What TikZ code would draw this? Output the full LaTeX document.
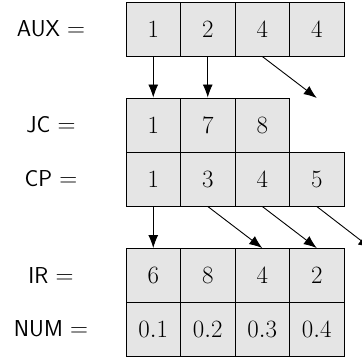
\documentclass[tikz,border=0pt]{standalone}
\usetikzlibrary{arrows.meta}
\begin{document}
\begin{tikzpicture}[x=1pt,y=-1pt,
 cell/.style={draw, line width=0.9pt, fill=black!10, minimum width=54.5pt, minimum height=54pt, inner sep=0pt, font=\fontsize{23}{28}\selectfont, anchor=center},
 lab/.style={font=\fontsize{23}{28}\selectfont\sffamily, anchor=center},
 arr/.style={-{Latex[length=13pt,width=10pt]}, line width=0.9pt}]
\clip (0,0) rectangle (362,358);
% labels
\node[lab] (lAUX) at (51,29) {AUX $=$};
\node[lab] (lJC) at (51,125) {JC $=$};
\node[lab] (lCP) at (51,179) {CP $=$};
\node[lab] (lIR) at (51,275.5) {IR $=$};
\node[lab] (lNUM) at (51,329) {NUM $=$};
% AUX
\node[cell] (a1) at (153.25,29) {$1$};
\node[cell] (a2) at (207.75,29) {$2$};
\node[cell] (a3) at (262.25,29) {$4$};
\node[cell] (a4) at (316.75,29) {$4$};
% JC
\node[cell] (j1) at (153.25,125) {$1$};
\node[cell] (j2) at (207.75,125) {$7$};
\node[cell] (j3) at (262.25,125) {$8$};
% CP
\node[cell] (c1) at (153.25,179) {$1$};
\node[cell] (c2) at (207.75,179) {$3$};
\node[cell] (c3) at (262.25,179) {$4$};
\node[cell] (c4) at (316.75,179) {$5$};
% IR
\node[cell] (i1) at (153.25,275.5) {$6$};
\node[cell] (i2) at (207.75,275.5) {$8$};
\node[cell] (i3) at (262.25,275.5) {$4$};
\node[cell] (i4) at (316.75,275.5) {$2$};
% NUM
\node[cell] (n1) at (153.25,329) {$0.1$};
\node[cell] (n2) at (207.75,329) {$0.2$};
\node[cell] (n3) at (262.25,329) {$0.3$};
\node[cell] (n4) at (316.75,329) {$0.4$};
% free ends
\coordinate (auxend) at (316.75,98);
\coordinate (cpend) at (371.25,248.5);
% arrows
\draw[arr] (a1.south) -- (j1.north);
\draw[arr] (a2.south) -- (j2.north);
\draw[arr] (a3.south) -- (auxend);
\draw[arr] (c1.south) -- (i1.north);
\draw[arr] (c2.south) -- (i3.north);
\draw[arr] (c3.south) -- (i4.north);
\draw[arr] (c4.south) -- (cpend);
\end{tikzpicture}
\end{document}
